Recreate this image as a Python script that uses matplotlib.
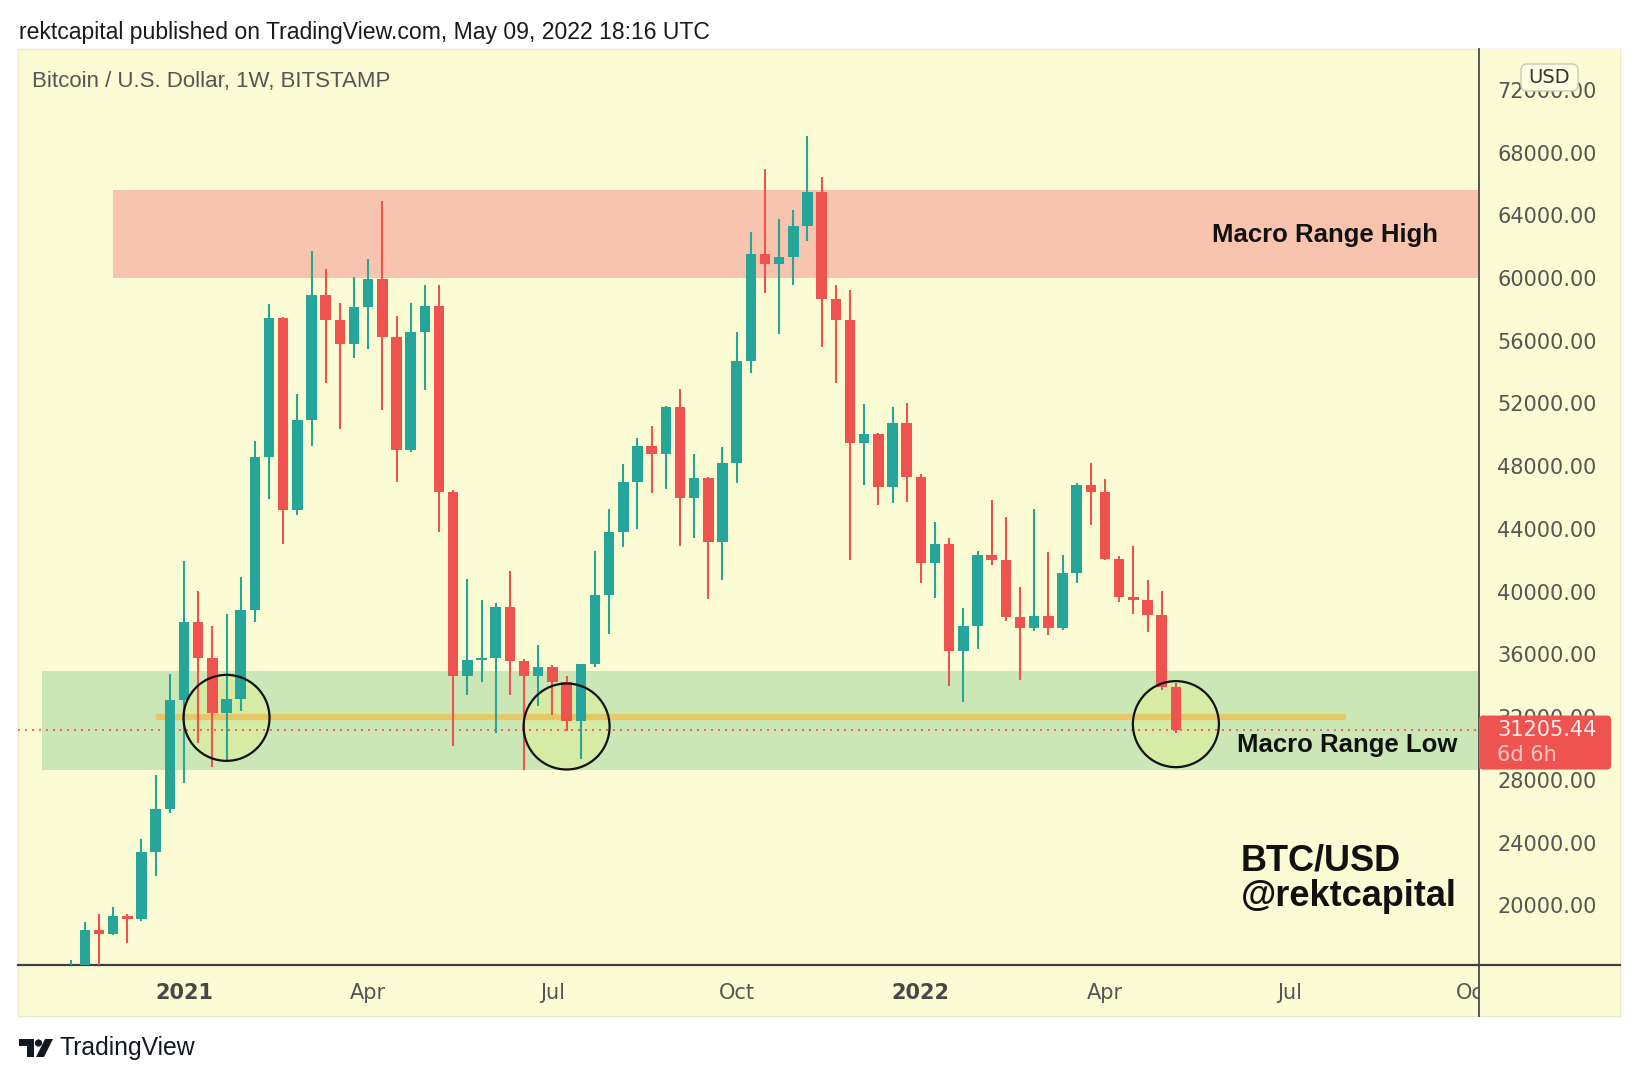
import numpy as np
import pandas as pd
import matplotlib
matplotlib.use("Agg")
import matplotlib.pyplot as plt
from matplotlib.patches import Rectangle, Ellipse, FancyBboxPatch, Polygon, Circle
from matplotlib.lines import Line2D

# ---------------- data ----------------
week_start = pd.date_range("2020-11-09", "2022-05-09", freq="7D")
opens = [15330, 15960, 18400, 18150, 19330, 19150, 23400, 26120,
         33060, 38080, 35790, 32270, 33130, 38800, 48600, 57420, 45190, 50930,
         58950, 57310, 55780, 58170, 59940, 56220, 49050, 56560, 58230, 46380,
         34600, 35620, 35790, 39040, 35550, 34600, 35210, 34260, 31760, 35380,
         39790, 43820, 46990, 49290, 48770, 51780, 45970, 47240, 43140, 48190,
         54680, 61520, 60900, 61340, 63290, 65510, 58680, 57310, 49460, 50070,
         46660, 50760, 47310, 41840, 43070, 36240, 37840, 42350, 42010, 38360,
         37670, 38430, 37670, 41190, 46830, 46380, 42110, 39650, 39480, 38490,
         33910]
highs = [16490, 18900, 19450, 19870, 19420, 24200, 28280, 34770,
         41940, 40060, 37840, 38600, 40920, 49630, 58340, 57500, 52630, 61720,
         60560, 58440, 60050, 61240, 64900, 57590, 58440, 59530, 59530, 46500,
         40820, 39450, 39300, 41330, 35700, 36580, 35300, 34600, 35400, 42560,
         45290, 48160, 49800, 50550, 51850, 52940, 48770, 47300, 49220, 56530,
         62950, 66980, 63740, 64320, 69030, 66430, 59530, 59260, 51950, 50130,
         51780, 52020, 47480, 44440, 43410, 38940, 42560, 45870, 44780, 40300,
         45290, 42520, 42350, 46900, 48190, 47170, 42280, 42900, 40750, 40060,
         34200]
lows = [14800, 15800, 16150, 18100, 17600, 19000, 21890, 25900,
        27770, 30330, 28790, 29130, 32380, 38080, 45940, 43070, 44900, 49290,
        53280, 50380, 54920, 55500, 51610, 46990, 48880, 52870, 43820, 30160,
        33400, 34260, 31010, 33400, 28620, 32720, 32140, 31110, 29300, 35200,
        37330, 42870, 43990, 46280, 46550, 42930, 43410, 39550, 40750, 46900,
        53970, 59020, 56460, 59530, 62370, 55600, 53320, 42010, 46830, 45530,
        45630, 45700, 40580, 39620, 33980, 32960, 36310, 41700, 38120, 34360,
        37500, 37230, 37550, 40580, 44260, 42000, 39310, 38600, 37430, 33740,
        31000]
closes = [15960, 18400, 18150, 19330, 19150, 23400, 26120, 33060,
          38080, 35790, 32270, 33130, 38800, 48600, 57420, 45190, 50930, 58950,
          57310, 55780, 58170, 59940, 56220, 49050, 56560, 58230, 46380, 34600,
          35620, 35790, 39040, 35550, 34600, 35210, 34260, 31760, 35380, 39790,
          43820, 46990, 49290, 48770, 51780, 45970, 47240, 43140, 48190, 54680,
          61520, 60900, 61340, 63290, 65510, 58680, 57310, 49460, 50070, 46660,
          50760, 47310, 41840, 43070, 36240, 37840, 42350, 42010, 38360, 37670,
          38430, 37670, 41190, 46830, 46380, 42110, 39650, 39480, 38490, 33910,
          31205.44]

tick_dates = ["2021-01-04", "2021-04-05", "2021-07-05", "2021-10-04",
              "2022-01-03", "2022-04-04", "2022-07-04", "2022-10-03"]
tick_labels = ["2021", "Apr", "Jul", "Oct", "2022", "Apr", "Jul", "Oct"]
price_ticks = [20000, 24000, 28000, 32000, 36000, 40000, 44000, 48000,
               52000, 56000, 60000, 64000, 68000, 72000]

range_high = (60000, 65600)
range_high_start = "2020-11-30"
range_low = (28600, 34950)
range_low_start = "2020-10-26"
support_level = 32000
support_span = ("2020-12-21", "2022-08-01")
last_price = 31205.44
circle_dates = ["2021-01-25", "2021-07-12", "2022-05-09"]
circle_prices = [31950, 31400, 31550]

# ---------------- layout constants (pixels) ----------------
W, H = 1639, 1080
REF = pd.Timestamp("2021-01-04")
X0_PX, PX_PER_WEEK = 184.0, 14.17
Y0_PX, PX_PER_USD = 152.6, 0.01568  # 68000 at Y0_PX
PANEL_L, PANEL_R, PANEL_T, PANEL_B = 18, 1620, 49, 1016
PLOT_R, PLOT_B = 1479, 965

def wk(d):
    return (pd.Timestamp(d) - REF).days / 7.0

def px_to_w(px):
    return (px - X0_PX) / PX_PER_WEEK

def py_to_price(py):
    return 68000 - (py - Y0_PX) / PX_PER_USD

def price_to_py(p):
    return Y0_PX + (68000 - p) * PX_PER_USD

def fx(px):
    return px / W

def fy(py):
    return 1 - py / H

BG = "#FCFCD4"
GREEN = "#26A69A"
RED = "#EF5350"
AXIS_TXT = "#555555"

plt.rcParams["font.family"] = ["DejaVu Sans"]
fig = plt.figure(figsize=(W / 100, H / 100), dpi=100)
fig.patch.set_facecolor("white")

# background panel
bg = fig.add_axes([fx(PANEL_L), fy(PANEL_B), fx(PANEL_R) - fx(PANEL_L), fy(PANEL_T) - fy(PANEL_B)], zorder=0)
bg.set_facecolor(BG)
bg.set_xticks([]); bg.set_yticks([])
for s in bg.spines.values():
    s.set_color("#EAEACB"); s.set_linewidth(1.0)

# main chart axes
ax = fig.add_axes([fx(PANEL_L), fy(PLOT_B), fx(PLOT_R) - fx(PANEL_L), fy(PANEL_T) - fy(PLOT_B)], zorder=1)
ax.patch.set_alpha(0)
ax.set_xlim(px_to_w(PANEL_L), px_to_w(PLOT_R))
ax.set_ylim(py_to_price(PLOT_B), py_to_price(PANEL_T))
for k in ["top", "left", "right"]:
    ax.spines[k].set_visible(False)
ax.spines["bottom"].set_color("#3f3f3f"); ax.spines["bottom"].set_linewidth(1.6)
ax.set_yticks([])
ax.set_xticks([wk(d) for d in tick_dates])
ax.set_xticklabels(tick_labels)
ax.tick_params(axis="x", length=0, pad=13, labelsize=15, labelcolor=AXIS_TXT)
for t in ax.get_xticklabels():
    if t.get_text().isdigit():
        t.set_fontweight("bold"); t.set_color("#474747")

xmax = px_to_w(PLOT_R)
# zones
x_hi0 = wk(range_high_start)
ax.add_patch(Rectangle((x_hi0, range_high[0]), xmax - x_hi0 + 1, range_high[1] - range_high[0],
                       facecolor="#F9C4AD", edgecolor="none", zorder=1))
x_lo0 = wk(range_low_start)
ax.add_patch(Rectangle((x_lo0, range_low[0]), xmax - x_lo0 + 1, range_low[1] - range_low[0],
                       facecolor="#CCE7B6", edgecolor="none", zorder=1))
ax.hlines(support_level, wk(support_span[0]), wk(support_span[1]), color="#E6C866",
          linewidth=4.5, zorder=1.6)

# circles (fill)
cw = 86 / PX_PER_WEEK
ch = 86 / PX_PER_USD
for d, p in zip(circle_dates, circle_prices):
    ax.add_patch(Ellipse((wk(d), p), cw, ch, facecolor="#E4F08E", alpha=0.45,
                         edgecolor="none", zorder=1.5))

# last price dotted line
ax.axhline(last_price, color=RED, linestyle=(0, (1.2, 3)), linewidth=1.2, zorder=2)

# candles
x = ((week_start - REF).days / 7.0).to_numpy()
o = np.array(opens, float); h = np.array(highs, float)
l = np.array(lows, float); c = np.array(closes, float)
cols = np.where(c >= o, GREEN, RED)
ax.vlines(x, l, h, colors=cols, linewidth=1.5, zorder=3)
body_lo = np.minimum(o, c)
body_h = np.maximum(np.abs(c - o), 130)
ax.bar(x, body_h, bottom=body_lo, width=0.74, color=cols, linewidth=0, zorder=3.1)

# circle outlines
for d, p in zip(circle_dates, circle_prices):
    ax.add_patch(Ellipse((wk(d), p), cw, ch, facecolor="none", edgecolor="#111111",
                         linewidth=1.6, zorder=4))

# annotations
ax.text(px_to_w(1438), py_to_price(235), "Macro Range High", ha="right", va="center",
        fontsize=18.5, fontweight="bold", color="#111111", family=["Liberation Sans"], zorder=5)
ax.text(px_to_w(1457), py_to_price(745), "Macro Range Low", ha="right", va="center",
        fontsize=18.5, fontweight="bold", color="#111111", family=["Liberation Sans"], zorder=5)
ax.text(px_to_w(1241), py_to_price(861), "BTC/USD", ha="left", va="center",
        fontsize=26, fontweight="bold", color="#111111", family=["Liberation Sans"], zorder=5)
ax.text(px_to_w(1241), py_to_price(897), "@rektcapital", ha="left", va="center",
        fontsize=26, fontweight="bold", color="#111111", family=["Liberation Sans"], zorder=5)

# right price axis panel
rp = fig.add_axes([fx(PLOT_R), fy(PANEL_B), fx(PANEL_R) - fx(PLOT_R), fy(PANEL_T) - fy(PANEL_B)], zorder=2)
rp.set_facecolor(BG)
rp.set_xlim(0, 1)
rp.set_ylim(py_to_price(PANEL_B), py_to_price(PANEL_T))
rp.set_xticks([])
rp.set_yticks(price_ticks)
rp.set_yticklabels([f"{v:.2f}" for v in price_ticks])
rp.tick_params(axis="y", length=0, pad=-13, labelsize=15, labelcolor=AXIS_TXT)
for t in rp.get_yticklabels():
    t.set_horizontalalignment("left")
for k in ["top", "right", "bottom"]:
    rp.spines[k].set_visible(False)
rp.spines["left"].set_color("#4a4a4a"); rp.spines["left"].set_linewidth(1.3)

# overlay in pixel coordinates
ov = fig.add_axes([0, 0, 1, 1], zorder=10)
ov.set_xlim(0, W); ov.set_ylim(H, 0); ov.axis("off"); ov.patch.set_alpha(0)

# x-axis line continuing under price scale
ov.add_line(Line2D([PLOT_R, PANEL_R], [PLOT_B, PLOT_B], color="#3f3f3f", linewidth=1.6))

# price tag
ty = price_to_py(last_price)
ov.add_patch(FancyBboxPatch((PLOT_R, ty - 14), 132, 54,
                            boxstyle="round,pad=0,rounding_size=4",
                            facecolor=RED, edgecolor="none"))
ov.text(1497, ty, f"{last_price:.2f}", ha="left", va="center", fontsize=15, color="#FFEDED")
ov.text(1497, ty + 25, "6d 6h", ha="left", va="center", fontsize=15, color="#FFC4C2")

# USD badge
ov.add_patch(FancyBboxPatch((1521, 64), 57, 27, boxstyle="round,pad=0,rounding_size=6",
                            facecolor="#FDFDE2", edgecolor="#C9C9B6", linewidth=1.0))
ov.text(1549.5, 77.5, "USD", ha="center", va="center", fontsize=14, color="#333333")

# header texts
ov.text(19, 33, "rektcapital published on TradingView.com, May 09, 2022 18:16 UTC",
        ha="left", va="center", fontsize=16.6, color="#1a1a1a", family=["Liberation Sans"])
ov.text(32, 82, "Bitcoin / U.S. Dollar, 1W, BITSTAMP", ha="left", va="center",
        fontsize=16, color=AXIS_TXT, family=["Liberation Sans"])

# TradingView logo + wordmark
ov.add_patch(Polygon([(19, 1039), (34, 1039), (34, 1057), (27, 1057), (27, 1046), (19, 1046)],
                     closed=True, facecolor="#131722", edgecolor="none"))
ov.add_patch(Circle((38.5, 1043), 3.6, facecolor="#131722", edgecolor="none"))
ov.add_patch(Polygon([(45, 1039), (53, 1039), (44, 1057), (36, 1057)],
                     closed=True, facecolor="#131722", edgecolor="none"))
ov.text(60, 1048, "TradingView", ha="left", va="center", fontsize=17.8,
        color="#131722", family=["Liberation Sans"])

fig.savefig("out.png", dpi=100, facecolor="white")
